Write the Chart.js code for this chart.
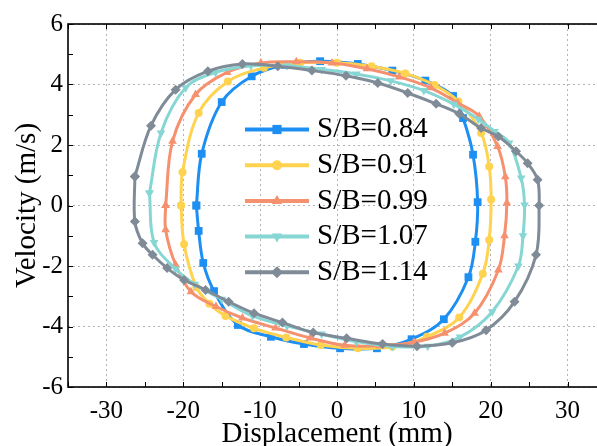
<!DOCTYPE html>
<html>
<head>
<meta charset="utf-8">
<script src="https://cdn.jsdelivr.net/npm/chart.js@4.4.0/dist/chart.umd.min.js"></script>
<style>
  html, body { margin: 0; padding: 0; background: #fff; overflow: hidden; }
  #wrap { position: relative; width: 620px; height: 446px; }
</style>
</head>
<body>
<div id="wrap"><canvas id="loopChart" width="620" height="446"></canvas></div>
<script>
// Phase loops: displacement (mm) vs velocity (m/s), one loop per S/B ratio
const seriesNames = ['S/B=0.84', 'S/B=0.91', 'S/B=0.99', 'S/B=1.07', 'S/B=1.14'];

const disp084 = [-18.3, -17.6, -15.0, -11.1, -6.8, -2.2, 2.7, 7.2, 11.5, 15.1, 16.4, 17.7, 18.3, 18.0, 17.1, 13.9, 9.7, 5.2, 0.4, -4.3, -8.6, -12.9, -16.0, -17.4, -18.0, -18.3];
const vel084  = [0, 1.71, 3.42, 4.27, 4.65, 4.77, 4.68, 4.46, 4.13, 3.62, 2.89, 1.68, 0.11, -1.2, -2.37, -3.76, -4.42, -4.72, -4.72, -4.58, -4.34, -3.95, -2.83, -1.9, -0.84, 0];

const disp091 = [-20.3, -20.1, -18.0, -14.2, -9.5, -4.8, 0.0, 4.5, 8.9, 12.7, 15.8, 18.75, 19.8, 20.05, 19.8, 18.96, 15.9, 11.7, 7.2, 2.7, -2.1, -6.6, -10.8, -14.5, -16.6, -18.3, -19.9, -20.3];
const vel091  = [0, 1.1, 3.06, 4.1, 4.55, 4.72, 4.72, 4.6, 4.36, 3.98, 3.44, 2.4, 1.29, 0.2, -1.14, -2.26, -3.7, -4.34, -4.67, -4.72, -4.61, -4.36, -4.06, -3.65, -3.25, -2.7, -1.28, 0];

const disp099 = [-22.3, -21.4, -18.4, -14.3, -9.9, -5.3, -0.65, 3.9, 8.1, 12.2, 15.7, 18.5, 20.9, 21.9, 22.1, 21.8, 21.0, 17.9, 14.0, 10.0, 5.6, 1.0, -3.5, -8.0, -12.3, -15.75, -19.0, -21.0, -22.3, -22.3];
const vel099  = [0, 2.12, 3.67, 4.4, 4.71, 4.75, 4.71, 4.52, 4.25, 3.89, 3.39, 2.95, 1.95, 0.95, 0.08, -1.0, -2.13, -3.56, -4.22, -4.52, -4.64, -4.62, -4.38, -4.05, -3.72, -3.34, -2.85, -1.96, -0.8, 0];

const disp107 = [-24.4, -22.9, -19.7, -15.8, -11.2, -6.5, -2.0, 2.5, 7.0, 11.3, 15.2, 18.4, 20.5, 22.4, 23.96, 24.4, 24.2, 23.6, 20.2, 16.0, 11.8, 7.2, 2.5, -2.0, -6.5, -11.0, -15.0, -18.5, -21.0, -23.8, -24.4];
const vel107  = [0.41, 2.4, 3.89, 4.4, 4.62, 4.62, 4.5, 4.35, 4.12, 3.8, 3.35, 2.85, 2.45, 2.07, 0.91, 0.02, -1.0, -2.0, -3.51, -4.35, -4.65, -4.66, -4.5, -4.25, -3.98, -3.65, -3.1, -2.6, -2.1, -1.22, 0.41];

const disp114 = [-26.3, -24.2, -21.0, -16.8, -12.3, -7.7, -3.26, 1.17, 5.3, 9.2, 12.9, 15.9, 18.75, 21.0, 23.3, 24.8, 26.1, 26.3, 25.9, 23.1, 19.4, 15.0, 10.4, 5.94, 1.25, -3.1, -7.1, -10.8, -14.1, -17.1, -19.9, -22.1, -24.0, -25.3, -26.3, -26.3];
const vel114  = [0.96, 2.64, 3.83, 4.44, 4.68, 4.6, 4.46, 4.29, 4.05, 3.72, 3.36, 3.03, 2.56, 2.28, 1.79, 1.4, 0.85, 0.0, -1.63, -3.18, -4.12, -4.54, -4.65, -4.58, -4.39, -4.2, -3.87, -3.56, -3.18, -2.79, -2.46, -2.07, -1.63, -1.25, -0.53, 0.96];

const xTickValues = [-30, -20, -10, 0, 10, 20, 30];
const yTickValues = [-6, -4, -2, 0, 2, 4, 6];

const dispSets = [disp084, disp091, disp099, disp107, disp114];
const velSets = [vel084, vel091, vel099, vel107, vel114];
const colors = ['#1E8FF2', '#FFD24F', '#F5916F', '#86D6D4', '#808B98'];
const markers = ['rect', 'circle', 'triangle', 'triangle', 'rectRot'];
const markerRot = [0, 0, 0, 180, 0];
const markerSize = [5.5, 4, 5, 5, 5];

const serif = "'Liberation Serif', 'Times New Roman', serif";
Chart.defaults.font.family = serif;
Chart.defaults.color = '#000';

// frame + inward ticks (every 5 mm / every 1 m/s) + legend inside the plot
const framePlugin = {
  id: 'framePlugin',
  afterDatasetsDraw(chart) {
    const ctx = chart.ctx;
    const area = chart.chartArea;
    const xs = chart.scales.x, ys = chart.scales.y;
    ctx.save();
    ctx.strokeStyle = '#000';
    ctx.lineWidth = 1;
    for (let v = xs.min; v <= xs.max; v += 5) {
      const px = Math.round(xs.getPixelForValue(v)) + 0.5;
      ctx.beginPath();
      ctx.moveTo(px, area.bottom); ctx.lineTo(px, area.bottom - 5);
      ctx.moveTo(px, area.top); ctx.lineTo(px, area.top + 5);
      ctx.stroke();
    }
    for (let v = ys.min; v <= ys.max; v += 1) {
      const py = Math.round(ys.getPixelForValue(v)) + 0.5;
      ctx.beginPath();
      ctx.moveTo(area.left, py); ctx.lineTo(area.left + 5, py);
      ctx.moveTo(area.right, py); ctx.lineTo(area.right - 5, py);
      ctx.stroke();
    }
    ctx.lineWidth = 1.6;
    ctx.strokeRect(area.left, area.top, area.right - area.left, area.bottom - area.top);

    // legend
    const lx = 245, lineLen = 64, ly = 129.5, rowH = 35.7;
    chart.data.datasets.forEach((ds, i) => {
      const y = ly + i * rowH;
      ctx.strokeStyle = ds.borderColor;
      ctx.lineWidth = 4;
      ctx.beginPath();
      ctx.moveTo(lx, y); ctx.lineTo(lx + lineLen, y);
      ctx.stroke();
      ctx.fillStyle = ds.borderColor;
      Chart.helpers.drawPoint(ctx, {
        pointStyle: ds.pointStyle, rotation: ds.pointRotation,
        radius: ds.pointRadius + 1, borderWidth: 0
      }, lx + lineLen / 2, y);
      ctx.fillStyle = '#000';
      ctx.font = '29px ' + serif;
      ctx.textBaseline = 'middle';
      ctx.textAlign = 'left';
      ctx.fillText(ds.label, lx + lineLen + 8, y);
    });
    ctx.restore();
  }
};

const datasets = seriesNames.map((name, i) => ({
  label: name,
  data: dispSets[i].map((x, k) => ({ x: x, y: velSets[i][k] })),
  showLine: true,
  borderColor: colors[i],
  backgroundColor: colors[i],
  borderWidth: 3,
  tension: 0.35,
  pointStyle: markers[i],
  pointRotation: markerRot[i],
  pointRadius: markerSize[i],
  pointBorderWidth: 0,
  pointBackgroundColor: colors[i],
  order: seriesNames.length - i
}));

new Chart(document.getElementById('loopChart'), {
  type: 'scatter',
  data: { datasets: datasets },
  options: {
    responsive: false,
    animation: false,
    devicePixelRatio: 1,
    layout: { padding: { top: 24, right: 14, left: 0, bottom: 0 } },
    plugins: { legend: { display: false }, tooltip: { enabled: false } },
    scales: {
      x: {
        type: 'linear',
        min: -35, max: 35,
        afterBuildTicks: s => { s.ticks = xTickValues.map(v => ({ value: v })); },
        afterFit: s => { s.height = 59; },
        grid: { color: '#b4b4b4', lineWidth: 1, drawTicks: false },
        border: { display: false, dash: [2, 3] },
        ticks: { color: '#000', font: { family: serif, size: 25 }, padding: 9, maxRotation: 0 },
        title: {
          display: true, text: 'Displacement (mm)', color: '#000',
          font: { family: serif, size: 29, lineHeight: 0.8 }, padding: { top: 0, bottom: 0 }
        }
      },
      y: {
        type: 'linear',
        min: -6, max: 6,
        afterBuildTicks: s => { s.ticks = yTickValues.map(v => ({ value: v })); },
        afterFit: s => { s.width = 68; },
        grid: { color: '#b4b4b4', lineWidth: 1, drawTicks: false },
        border: { display: false, dash: [2, 3] },
        ticks: { color: '#000', font: { family: serif, size: 25 }, padding: 5 },
        title: {
          display: true, text: 'Velocity (m/s)', color: '#000',
          font: { family: serif, size: 29, lineHeight: 1 }, padding: { top: 13, bottom: 0 }
        }
      }
    }
  },
  plugins: [framePlugin]
});
</script>
</body>
</html>
